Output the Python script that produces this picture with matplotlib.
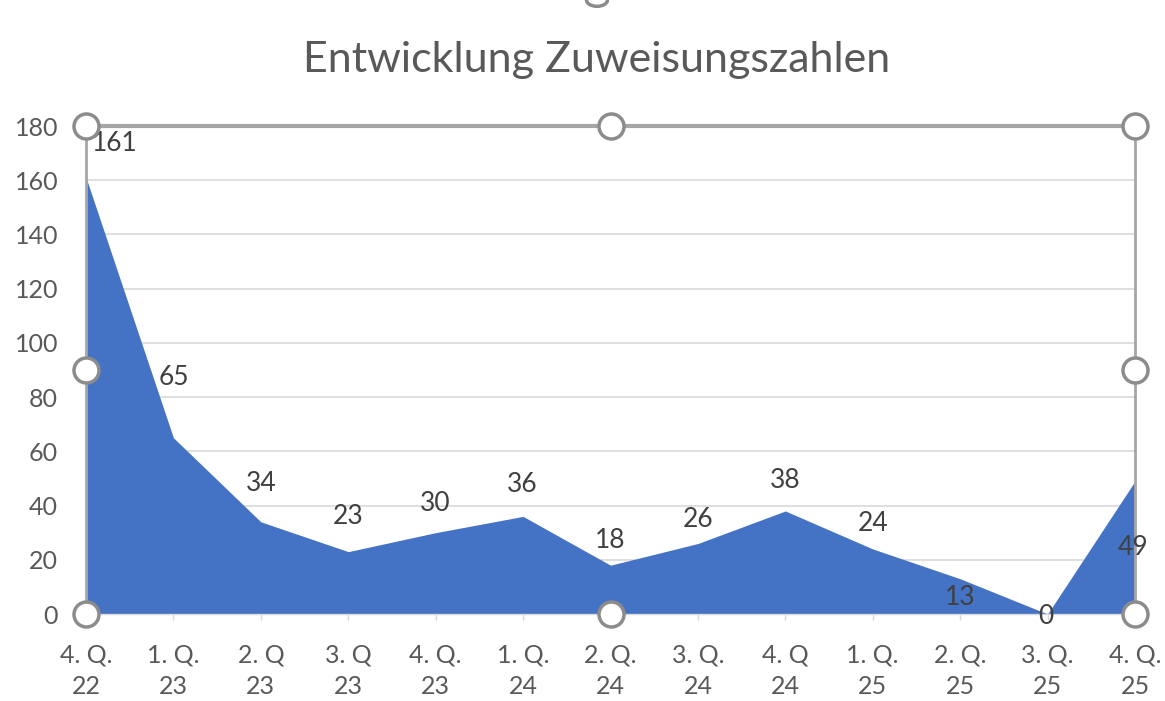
import matplotlib.pyplot as plt
from matplotlib.patches import Circle

quarters = ["4. Q.\n22", "1. Q.\n23", "2. Q\n23", "3. Q\n23", "4. Q.\n23", "1. Q.\n24",
            "2. Q.\n24", "3. Q.\n24", "4. Q\n24", "1. Q.\n25", "2. Q.\n25", "3. Q.\n25", "4. Q.\n25"]
values = [161, 65, 34, 23, 30, 36, 18, 26, 38, 24, 13, 0, 49]
y_ticks = [0, 20, 40, 60, 80, 100, 120, 140, 160, 180]

# where Excel put the data labels, relative to the point (pixels)
label_off = [(29, 34), (0, 60), (0, 38), (0, 35), (0, 29), (-1, 32), (0, 25),
             (0, 24), (0, 30), (0, 25), (0, -19), (-2, -2), (-2, -66)]

plt.rcParams['font.family'] = ['Lato', 'DejaVu Sans']

fig = plt.figure(figsize=(11.65, 7.01), dpi=100)
ax = fig.add_axes([86 / 1165, 87 / 701, 1049 / 1165, 488 / 701])

x = list(range(len(values)))
ax.fill_between(x, values, 0, color="#4472C4", linewidth=0, zorder=2)

ax.set_xlim(0, len(values) - 1)
ax.set_ylim(0, 180)
ax.set_yticks(y_ticks)
ax.set_xticks(x)
ax.set_xticklabels(quarters, linespacing=1.45)
ax.grid(axis="y", color="#D9D9D9", linewidth=1.2, zorder=0)
ax.tick_params(axis="y", length=0, pad=20, labelsize=18, labelcolor="#595959")
ax.tick_params(axis="x", length=4, width=1, color="#D9D9D9", pad=17, labelsize=18,
               labelcolor="#595959")

for side in ["left", "right"]:
    ax.spines[side].set_color("#A6A6A6")
    ax.spines[side].set_linewidth(2)
ax.spines["top"].set_color("#A6A6A6")
ax.spines["top"].set_linewidth(3)
ax.spines["bottom"].set_color("#D9D9D9")
ax.spines["bottom"].set_linewidth(1)
for s in ax.spines.values():
    s.set_zorder(4)

for xi, v, (dx, dy) in zip(x, values, label_off):
    ax.annotate(str(v), (xi, v), xytext=(dx, dy), textcoords="offset pixels",
                ha="center", va="center", fontsize=19, color="#404040", zorder=5,
                annotation_clip=False)

# selection handles
hx = [0, 0.5, 1, 0, 1, 0, 0.5, 1]
hy = [1, 1, 1, 0.5, 0.5, 0, 0, 0]
ax.plot(hx, hy, "o", transform=ax.transAxes, markersize=18, markerfacecolor="white",
        markeredgecolor="#8C8C8C", markeredgewidth=2.5, clip_on=False, zorder=6)

# chart area handle cut off at the top
fig.patches.append(Circle((597 / 1165, 1.0), 0.009, transform=fig.transFigure,
                          facecolor="white", edgecolor="#8C8C8C", linewidth=2.5))

fig.text(597 / 1165, 1 - 60 / 701, "Entwicklung Zuweisungszahlen", ha="center",
         va="center", fontsize=31, color="#595959")

fig.savefig("out.png", dpi=100, facecolor="white")
